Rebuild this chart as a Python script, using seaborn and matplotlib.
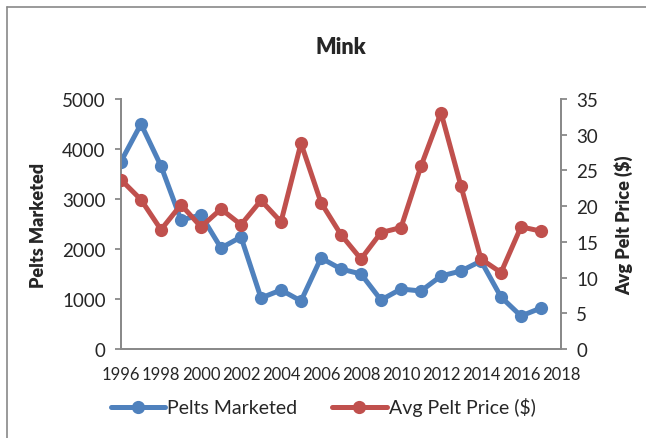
import matplotlib
matplotlib.use("Agg")
import matplotlib.pyplot as plt
import seaborn as sns
import pandas as pd
from matplotlib.lines import Line2D

years = list(range(1996, 2018))
pelts = [3750, 4500, 3660, 2580, 2680, 2020, 2240, 1020, 1180, 960, 1820,
         1600, 1500, 980, 1200, 1160, 1460, 1560, 1760, 1040, 660, 820]
price = [23.7, 20.9, 16.7, 20.2, 17.1, 19.6, 17.4, 20.8, 17.8, 28.8, 20.5,
         16.0, 12.6, 16.3, 17.0, 25.6, 33.1, 22.8, 12.6, 10.7, 17.1, 16.5]
title = "Mink"
left_label = "Pelts Marketed"
right_label = "Avg Pelt Price ($)"

df = pd.DataFrame({"Year": years, "Pelts": pelts, "Price": price})

sns.set_style("white")
plt.rcParams['font.family'] = ['Lato', 'DejaVu Sans']

blue = "#4F81BD"
red = "#C0504D"
grey = "#898989"

fig = plt.figure(figsize=(6.46, 4.39), dpi=100)
ax = fig.add_axes([121/646, 1-350/439, 440/646, 250/439])
ax2 = ax.twinx()

lw = 3.6
ms = 9.5
sns.lineplot(data=df, x="Year", y="Pelts", ax=ax, color=blue, lw=lw,
             marker="o", markersize=ms, markeredgewidth=0, zorder=3)
sns.lineplot(data=df, x="Year", y="Price", ax=ax2, color=red, lw=lw,
             marker="o", markersize=ms, markeredgewidth=0, zorder=3)

ax.set_xlim(1996, 2018)
ax.set_ylim(0, 5000)
ax2.set_ylim(0, 35)
ax.set_xticks(range(1996, 2019, 2))
ax.set_xticks(range(1996, 2019), minor=True)
ax.set_yticks(range(0, 5001, 1000))
ax2.set_yticks(range(0, 36, 5))

for a in (ax, ax2):
    a.spines['top'].set_visible(False)
    for s in ('left', 'right', 'bottom'):
        a.spines[s].set_color(grey)
        a.spines[s].set_linewidth(1.3)
    a.tick_params(axis='both', which='both', color=grey, width=1.3,
                  length=4, direction='out', labelsize=13.5)
ax.tick_params(axis='x', which='minor', length=4, color=grey, width=1.3)
ax.tick_params(axis='x', labelsize=12, pad=8)
ax.tick_params(axis='y', pad=7)
ax2.tick_params(axis='y', pad=7)

ax.set_xlabel("")
ax.set_ylabel(left_label, fontsize=13, fontweight='heavy', labelpad=11)
ax2.set_ylabel(right_label, fontsize=13, fontweight='heavy', labelpad=12)
ax.set_title(title, fontsize=15.5, fontweight='heavy', pad=33)

handles = [Line2D([], [], color=blue, lw=lw, marker='o', markersize=ms, markeredgewidth=0),
           Line2D([], [], color=red, lw=lw, marker='o', markersize=ms, markeredgewidth=0)]
fig.legend(handles, [left_label, right_label], loc='center', bbox_to_anchor=(0.5, 1-408/439),
           ncol=2, frameon=False, fontsize=14, handlelength=2.8, handletextpad=0.1,
           columnspacing=1.8)

fig.add_artist(Line2D([7/646, 7/646], [0, 1-8/439], transform=fig.transFigure, color=grey, lw=1.2))
fig.add_artist(Line2D([7/646, 1], [1-8/439, 1-8/439], transform=fig.transFigure, color=grey, lw=1.2))

fig.savefig("out.png", dpi=100)
